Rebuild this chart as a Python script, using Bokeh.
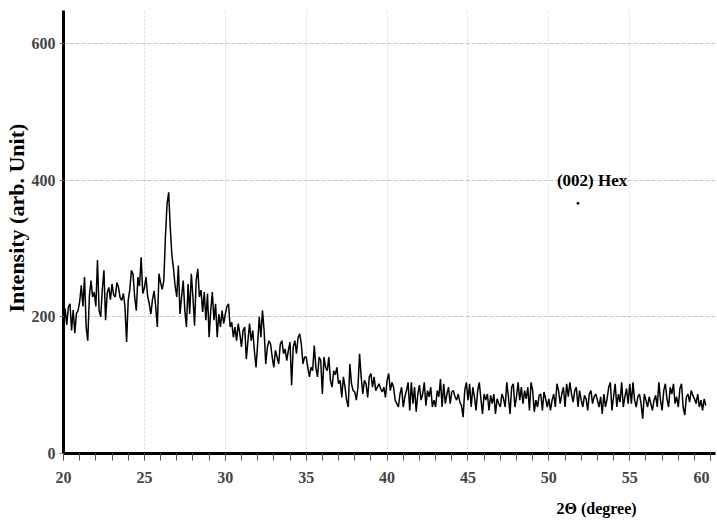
from bokeh.plotting import figure
from bokeh.models import Range1d, Label, SingleIntervalTicker, FixedTicker, Title
from bokeh.embed import file_html
from bokeh.resources import INLINE

# ---- data ----
theta_start = 20.0
theta_step = 0.1
intensity = [
    195, 212, 188, 214, 219, 180, 210, 176, 205, 209,
    222, 246, 215, 258, 185, 165, 230, 253, 229, 236,
    215, 283, 209, 200, 240, 268, 195, 235, 243, 225,
    248, 232, 229, 250, 243, 228, 224, 234, 215, 163,
    224, 240, 268, 262, 229, 209, 258, 245, 287, 234,
    242, 258, 230, 219, 204, 225, 238, 215, 185, 263,
    250, 240, 253, 317, 365, 382, 330, 290, 270, 245,
    229, 275, 204, 229, 253, 209, 185, 248, 204, 263,
    229, 187, 253, 270, 229, 239, 207, 236, 195, 234,
    170, 209, 236, 195, 219, 170, 204, 185, 209, 190,
    204, 215, 219, 185, 192, 170, 185, 165, 190, 175,
    156, 180, 185, 138, 165, 190, 165, 180, 150, 126,
    160, 200, 170, 209, 180, 131, 155, 165, 160, 141,
    126, 151, 141, 131, 160, 165, 146, 153, 136, 151,
    163, 100, 156, 165, 146, 170, 175, 160, 131, 141,
    141, 126, 112, 126, 121, 158, 126, 112, 141, 136,
    87, 141, 126, 121, 141, 107, 97, 121, 115, 126,
    102, 107, 82, 112, 97, 78, 68, 131, 102, 92,
    90, 78, 97, 146, 112, 87, 107, 102, 82, 112,
    117, 97, 112, 92, 97, 102, 95, 90, 97, 82,
    107, 117, 92, 104, 97, 78, 73, 68, 87, 97,
    68, 83, 92, 104, 63, 104, 73, 97, 61, 87,
    100, 78, 87, 104, 70, 92, 83, 97, 68, 78,
    68, 92, 83, 109, 68, 102, 73, 87, 97, 73,
    90, 92, 83, 78, 87, 75, 70, 53, 92, 104,
    78, 102, 68, 97, 83, 63, 92, 104, 80, 58,
    87, 78, 87, 63, 85, 73, 87, 58, 80, 73,
    68, 87, 80, 68, 104, 83, 58, 97, 102, 68,
    83, 104, 78, 97, 73, 92, 80, 97, 63, 104,
    92, 61, 78, 68, 85, 87, 63, 90, 80, 68,
    80, 63, 78, 87, 68, 102, 92, 73, 87, 97,
    68, 102, 83, 104, 87, 75, 92, 97, 68, 92,
    78, 68, 85, 80, 63, 87, 92, 73, 83, 87,
    78, 68, 83, 58, 87, 68, 80, 97, 104, 63,
    83, 102, 68, 87, 75, 104, 68, 83, 95, 73,
    102, 73, 104, 78, 68, 83, 87, 73, 51, 87,
    78, 68, 83, 73, 63, 78, 85, 68, 104, 78,
    63, 92, 102, 80, 68, 97, 87, 102, 73, 83,
    68, 95, 102, 68, 56, 83, 87, 75, 92, 85,
    80, 73, 87, 68, 78, 63, 80, 70,
]
theta = [round(theta_start + i * theta_step, 2) for i in range(len(intensity))]

x_grid = [25, 30, 35, 40, 45, 50, 55]
y_ticks = [0, 200, 400, 600]
y_grid = [200, 400, 600]

x_title = "2\u0398 (degree)"
y_title = "Intensity (arb. Unit)"
peak_text = "(002) Hex"
peak_text_x = 50.5
peak_text_y = 400
dot_x = [51.8]
dot_y = [366]

FONT = "Liberation Serif"

p = figure(width=717, height=525, output_backend="svg", toolbar_location=None,
           x_range=Range1d(20, 60.3), y_range=Range1d(0, 648),
           min_border_left=63, min_border_right=2, min_border_top=10, min_border_bottom=72)
p.outline_line_color = None
p.background_fill_color = "white"
p.border_fill_color = "white"

# grids
p.xgrid.ticker = FixedTicker(ticks=x_grid)
p.xgrid.grid_line_color = "#d6d6d6"
p.xgrid.grid_line_dash = "2 2"
p.xgrid.grid_line_width = 1
p.ygrid.ticker = FixedTicker(ticks=y_grid)
p.ygrid.grid_line_color = "#c4c4c4"
p.ygrid.grid_line_dash = "4 2"
p.ygrid.grid_line_width = 1

# x axis
xa = p.xaxis[0]
xa.ticker = SingleIntervalTicker(interval=5, num_minor_ticks=5)
xa.axis_line_width = 3
xa.axis_line_color = "black"
xa.major_tick_out = 7
xa.major_tick_in = 0
xa.minor_tick_out = 7
xa.minor_tick_in = 0
xa.major_tick_line_color = "#555555"
xa.minor_tick_line_color = "#555555"
xa.major_label_text_font = FONT
xa.major_label_text_font_style = "bold"
xa.major_label_text_font_size = "16px"
xa.major_label_standoff = 8
xa.major_label_overrides = {60: "60\u2002"}

# y axis
ya = p.yaxis[0]
ya.ticker = FixedTicker(ticks=y_ticks)
ya.axis_line_width = 3
ya.axis_line_color = "black"
ya.major_tick_out = 4
ya.major_tick_in = 0
ya.major_tick_line_color = "#777777"
ya.minor_tick_line_color = None
ya.major_label_text_font = FONT
ya.major_label_text_font_style = "bold"
ya.major_label_text_font_size = "16px"
ya.major_label_standoff = 4

# axis titles as side titles (positioned like the reference)
p.add_layout(Title(text=x_title, align="left", offset=493, standoff=18,
                   text_font=FONT, text_font_style="bold", text_font_size="16px",
                   text_color="black"), "below")
p.add_layout(Title(text=y_title, align="left", offset=141, standoff=0,
                   text_font=FONT, text_font_style="bold", text_font_size="22px",
                   text_color="black"), "left")

# trace
p.line(theta, intensity, line_color="black", line_width=1.5)
p.scatter(dot_x, dot_y, size=2, color="black")

# annotation
p.add_layout(Label(x=peak_text_x, y=peak_text_y, text=peak_text, text_font=FONT,
                   text_font_style="bold", text_font_size="17px",
                   text_align="left", text_baseline="middle", text_color="black"))

open("out.html", "w").write(file_html(p, INLINE))
